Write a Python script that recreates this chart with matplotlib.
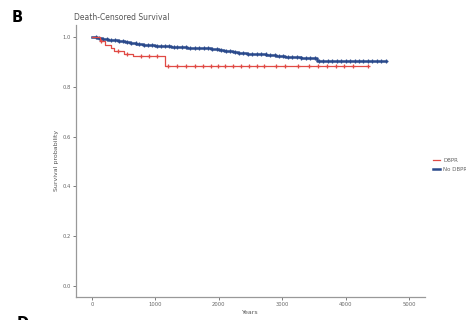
import numpy as np
import matplotlib
matplotlib.use("Agg")
from matplotlib import pyplot as plt

# Kaplan-Meier steps (days, survival) for each group
dbpr_t = [0, 130, 200, 300, 350, 500, 650, 1150, 4350]
dbpr_s = [1.0, 0.985, 0.968, 0.955, 0.942, 0.932, 0.924, 0.884, 0.884]
dbpr_cens = [150, 420, 560, 780, 900, 1020, 1200, 1350, 1480, 1620, 1750, 1880,
             1990, 2100, 2220, 2350, 2480, 2600, 2720, 2900, 3050, 3250, 3420,
             3560, 3700, 3850, 3980, 4120, 4350]

nodbp_t = [0, 80, 160, 250, 330, 420, 520, 600, 700, 800, 900, 1000, 1120,
           1250, 1380, 1500, 1630, 1750, 1880, 2000, 2080, 2150, 2230, 2300,
           2450, 2600, 2750, 2900, 3050, 3300, 3550, 4640]
nodbp_s = [1.0, 0.997, 0.994, 0.99, 0.987, 0.983, 0.979, 0.976, 0.973, 0.97,
           0.968, 0.965, 0.963, 0.962, 0.96, 0.958, 0.957, 0.955, 0.952, 0.948,
           0.945, 0.942, 0.938, 0.935, 0.933, 0.93, 0.926, 0.922, 0.92, 0.916,
           0.905, 0.905]
nodbp_cens = [60, 120, 180, 240, 300, 360, 430, 490, 550, 620, 690, 750, 820,
              880, 950, 1020, 1090, 1150, 1220, 1290, 1350, 1420, 1480, 1550,
              1620, 1690, 1760, 1830, 1900, 1970, 2040, 2110, 2180, 2250, 2320,
              2390, 2460, 2530, 2600, 2670, 2740, 2810, 2880, 2950, 3020, 3090,
              3160, 3230, 3300, 3370, 3440, 3510, 3580, 3650, 3720, 3790, 3860,
              3930, 4000, 4070, 4140, 4210, 4280, 4350, 4420, 4490, 4560, 4640]

groups = ["DBPR", "No DBPR"]
colors = ["#e04a45", "#2b4a8c"]

fig = plt.figure(figsize=(4.66, 3.2), dpi=100)
ax = fig.add_axes([0.163, 0.072, 0.749, 0.851])


def km(ax, t, s, cens, color, lw, ms, label):
    ax.step(t, s, where="post", color=color, lw=lw, label=label)
    idx = np.searchsorted(t, cens, side="right") - 1
    ax.plot(cens, np.array(s)[idx], ls="none", marker="+", ms=ms,
            mew=0.9, color=color)


km(ax, nodbp_t, nodbp_s, nodbp_cens, colors[1], 1.8, 3.4, groups[1])
km(ax, dbpr_t, dbpr_s, dbpr_cens, colors[0], 0.9, 2.6, groups[0])

ax.set_xlim(-250, 5250)
ax.set_ylim(-0.045, 1.05)
ax.set_xticks([0, 1000, 2000, 3000, 4000, 5000])
ax.set_yticks([0.0, 0.2, 0.4, 0.6, 0.8, 1.0])
ax.set_yticklabels(["0.0", "0.2", "0.4", "0.6", "0.8", "1.0"])

for sp in ["top", "right"]:
    ax.spines[sp].set_visible(False)
for sp in ["left", "bottom"]:
    ax.spines[sp].set_color("#999999")
    ax.spines[sp].set_linewidth(0.9)
ax.tick_params(labelsize=3.8, colors="#666666", length=2, width=0.6,
               pad=1.5)

ax.set_xlabel("Years", fontsize=4.5, color="#555555", labelpad=2)
ax.set_ylabel("Survival probability", fontsize=4.5, color="#555555",
              labelpad=3)
ax.set_title("Death-Censored Survival", fontsize=5.5, color="#555555",
             loc="left", x=-0.005, pad=3)

h, l = ax.get_legend_handles_labels()
fig.legend(h[::-1], l[::-1], loc="center left", bbox_to_anchor=(0.918, 0.485),
           frameon=False, fontsize=4, labelcolor="#666666",
           handlelength=1.3, handletextpad=0.6, labelspacing=0.7)

fig.text(0.026, 0.945, "B", fontsize=10.5, fontweight="bold", va="center")
fig.text(0.036, 0.012, "D", fontsize=10.5, fontweight="bold", va="top")

fig.savefig("out.png", dpi=100)
